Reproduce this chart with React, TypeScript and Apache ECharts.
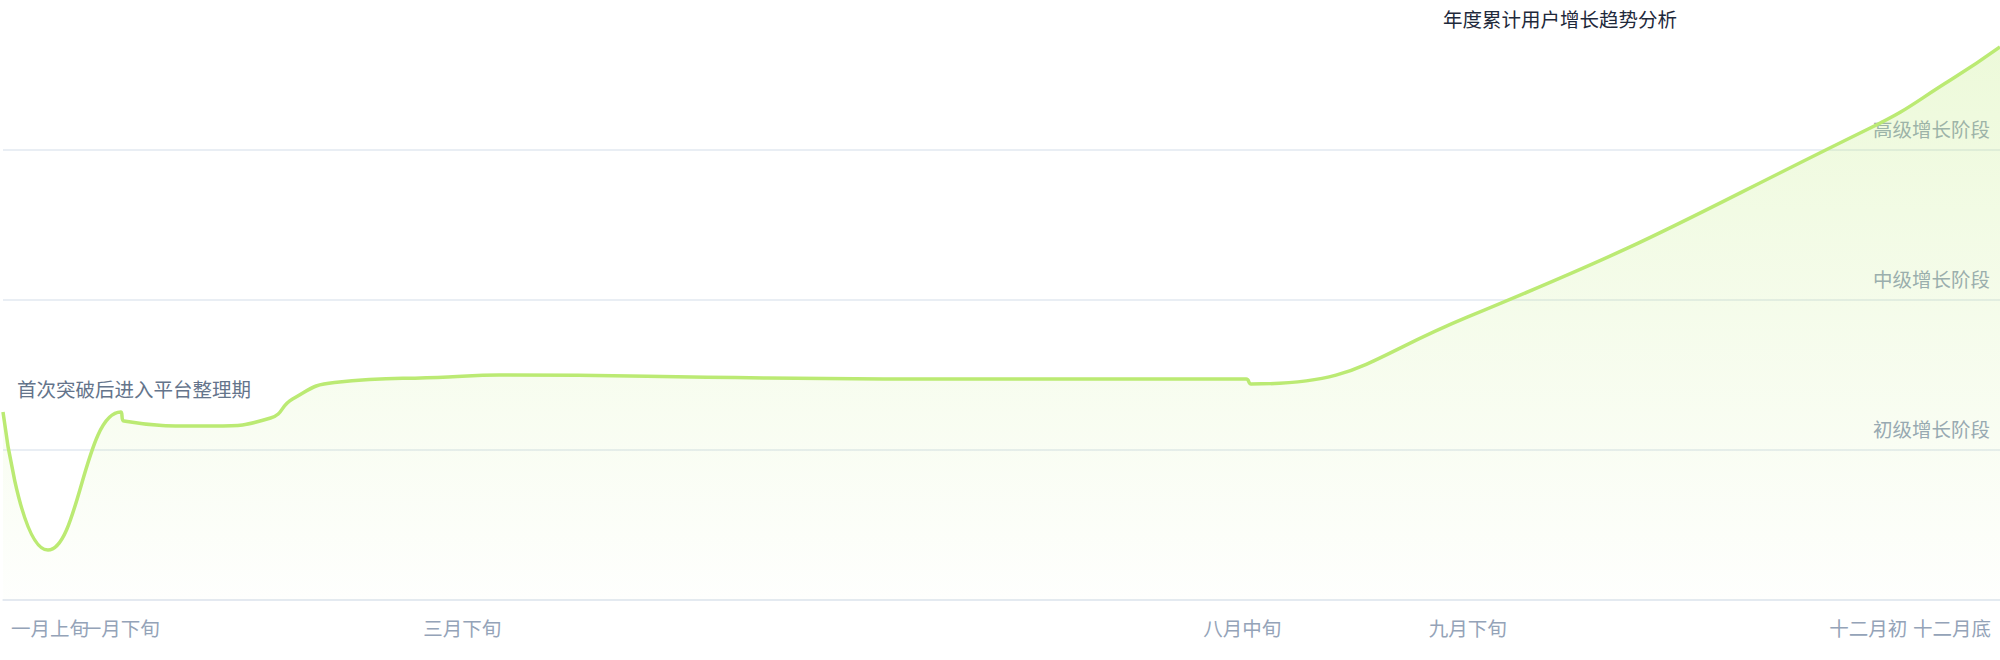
import React, { useEffect, useRef } from "react";
import * as echarts from "echarts";

// x in % of the year, y in score points
const points: [number, number][] = [
  [0, 125.3],
  [2.25, 33.3],
  [5.9, 125.3],
  [6.05, 119.3],
  [10.5, 116],
  [13.4, 121.3],
  [14.5, 134],
  [16.6, 145],
  [22.3, 148.7],
  [24.85, 150],
  [38.25, 148],
  [50, 147.3],
  [62.25, 147.3],
  [62.5, 144],
  [73.35, 188.7],
  [93.4, 314],
  [97.6, 347.3],
  [100, 368.7],
];

// first tick is a blank spacer so both January labels stay visible
const xTickValues = [0, 2.35, 5.9, 23, 62.05, 73.35, 93.4, 97.6];
const xTickLabels = ["", "一月上旬", "一月下旬", "三月下旬", "八月中旬", "九月下旬", "十二月初", "十二月底"];

const yTickValues = [100, 200, 300];
const yTickLabels = ["初级增长阶段", "中级增长阶段", "高级增长阶段"];

const titleText = "年度累计用户增长趋势分析";
const noteText = "首次突破后进入平台整理期";

const FONT = "'Noto Sans CJK SC', 'Noto Sans', sans-serif";

const App: React.FC = () => {
  const chartRef = useRef<HTMLDivElement>(null);

  useEffect(() => {
    document.body.style.margin = "0";
    if (!chartRef.current) return;
    const chart = echarts.init(chartRef.current, null, { renderer: "svg" });

    const option: echarts.EChartsOption = {
      animation: false,
      textStyle: { fontFamily: FONT },
      title: {
        text: titleText,
        left: 1443,
        top: 9,
        padding: 0,
        textStyle: { color: "#1e293b", fontSize: 19.5, fontWeight: "normal", fontFamily: FONT },
      },
      grid: { left: 0, right: 0, top: 0, bottom: 60, containLabel: false },
      xAxis: {
        type: "value",
        min: 0,
        max: 100,
        splitLine: { show: false },
        axisTick: { show: false },
        axisLine: { show: true, lineStyle: { color: "#e2e8f0", width: 1.5 } },
        axisLabel: {
          customValues: xTickValues,
          formatter: (v: number) => {
            const i = xTickValues.indexOf(v);
            return i >= 0 ? xTickLabels[i] : "";
          },
          color: "#94a3b8",
          fontSize: 19.5,
          margin: 18,
          fontFamily: FONT,
          showMinLabel: true,
          showMaxLabel: true,
          hideOverlap: false,
        },
      },
      yAxis: {
        type: "value",
        position: "right",
        min: 0,
        max: 400,
        interval: 100,
        axisLine: { show: false },
        axisTick: { show: false },
        splitLine: {
          show: true,
          showMaxLine: false,
          lineStyle: { color: "#e2e8f0", width: 1.5 },
        },
        axisLabel: {
          inside: true,
          customValues: yTickValues,
          formatter: (v: number) => {
            const i = yTickValues.indexOf(v);
            return i >= 0 ? yTickLabels[i] : "";
          },
          color: "#94a3b8",
          fontSize: 19.5,
          margin: 10,
          verticalAlign: "bottom",
          padding: [0, 0, 12, 0],
          fontFamily: FONT,
        },
      },
      graphic: [
        {
          type: "text",
          left: 17,
          top: 379,
          style: { text: noteText, fill: "#64748b", fontSize: 19.5, fontFamily: FONT },
        },
      ],
      series: [
        {
          type: "line",
          data: points,
          smooth: true,
          showSymbol: false,
          symbol: "none",
          lineStyle: { color: "#bbea73", width: 3.5 },
          areaStyle: {
            color: new echarts.graphic.LinearGradient(0, 0, 0, 1, [
              { offset: 0, color: "rgba(187,234,115,0.38)" },
              { offset: 1, color: "rgba(187,234,115,0.02)" },
            ]),
          },
        },
      ],
    };

    chart.setOption(option);
    return () => chart.dispose();
  }, []);

  return <div ref={chartRef} style={{ width: 2000, height: 660 }} />;
};

export default App;
